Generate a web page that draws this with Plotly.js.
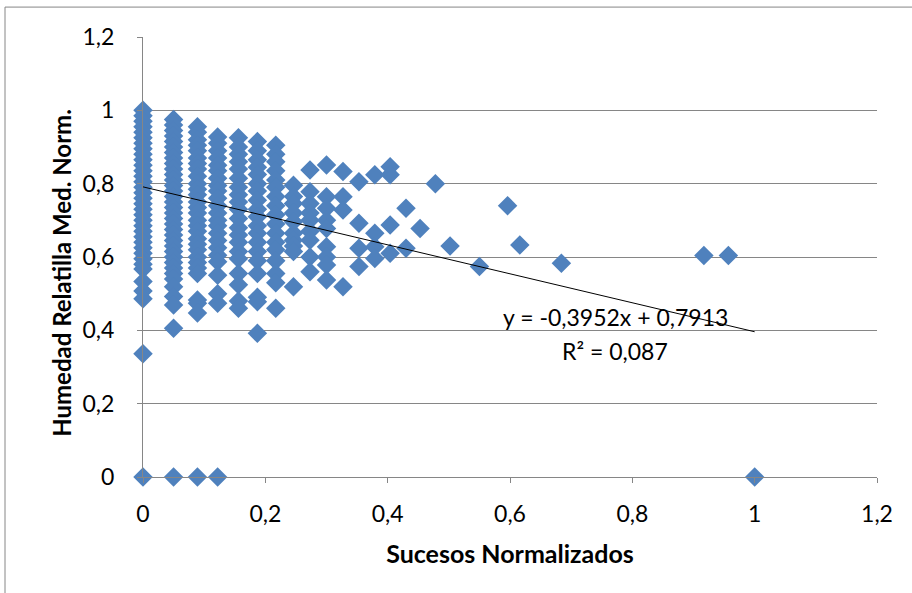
<!DOCTYPE html>
<html>
<head>
<meta charset="utf-8">
<script src="https://cdn.plot.ly/plotly-3.0.1.min.js"></script>
<style>
  html, body { margin: 0; padding: 0; background: #ffffff; }
  #chart { width: 912px; height: 593px; }
</style>
</head>
<body>
<div id="chart"></div>
<script>
// Column x-positions (Sucesos Normalizados)
const columnX = [0, 0.05, 0.089, 0.122, 0.156, 0.187, 0.217, 0.246, 0.273, 0.30, 0.327, 0.353, 0.379, 0.404, 0.43, 0.453, 0.478, 0.502, 0.55, 0.596, 0.616, 0.684, 0.917, 0.957, 1.0];

// Humedad Relativa Med. Norm. values for each column
const col000 = [1.0, 0.985, 0.97, 0.955, 0.94, 0.925, 0.91, 0.895, 0.88, 0.865, 0.85, 0.835, 0.82, 0.805, 0.79, 0.775, 0.76, 0.745, 0.73, 0.715, 0.7, 0.685, 0.67, 0.655, 0.64, 0.625, 0.61, 0.595, 0.58, 0.567, 0.533, 0.507, 0.486, 0.336, 0];
const col005 = [0.975, 0.96, 0.945, 0.93, 0.915, 0.9, 0.885, 0.87, 0.855, 0.84, 0.825, 0.81, 0.795, 0.78, 0.765, 0.75, 0.735, 0.72, 0.705, 0.69, 0.675, 0.66, 0.645, 0.63, 0.615, 0.6, 0.585, 0.57, 0.555, 0.54, 0.519, 0.492, 0.469, 0.406, 0];
const col009 = [0.955, 0.94, 0.92, 0.905, 0.89, 0.87, 0.855, 0.84, 0.82, 0.8, 0.785, 0.77, 0.75, 0.735, 0.72, 0.7, 0.685, 0.67, 0.65, 0.635, 0.62, 0.6, 0.585, 0.57, 0.555, 0.483, 0.474, 0.447, 0];
const col012 = [0.927, 0.91, 0.89, 0.87, 0.85, 0.835, 0.815, 0.795, 0.78, 0.76, 0.74, 0.72, 0.7, 0.685, 0.665, 0.645, 0.625, 0.605, 0.587, 0.55, 0.5, 0.474, 0];
const col016 = [0.925, 0.9, 0.88, 0.86, 0.84, 0.815, 0.79, 0.77, 0.75, 0.73, 0.705, 0.68, 0.66, 0.64, 0.615, 0.595, 0.555, 0.524, 0.48, 0.46];
const col019 = [0.915, 0.89, 0.865, 0.845, 0.825, 0.8, 0.78, 0.755, 0.73, 0.71, 0.685, 0.665, 0.64, 0.615, 0.59, 0.555, 0.49, 0.478, 0.392];
const col022 = [0.905, 0.88, 0.86, 0.835, 0.81, 0.79, 0.765, 0.74, 0.715, 0.69, 0.665, 0.64, 0.62, 0.59, 0.555, 0.53, 0.46];
const col025 = [0.796, 0.765, 0.746, 0.72, 0.696, 0.665, 0.646, 0.63, 0.615, 0.519];
const col027 = [0.837, 0.778, 0.746, 0.72, 0.7, 0.67, 0.646, 0.6, 0.56];
const col030 = [0.851, 0.764, 0.733, 0.7, 0.678, 0.628, 0.6, 0.578, 0.537];
const col033 = [0.833, 0.764, 0.728, 0.519];
const col035 = [0.805, 0.692, 0.624, 0.574];
const col038 = [0.824, 0.665, 0.628, 0.596];
const col040 = [0.846, 0.824, 0.687, 0.61];
const col043 = [0.733, 0.624];
const col045 = [0.678];
const col048 = [0.8];
const col050 = [0.63];
const col055 = [0.574];
const col060 = [0.74];
const col062 = [0.633];
const col068 = [0.583];
const col092 = [0.604];
const col096 = [0.604];
const col100 = [0];

const columnY = [col000, col005, col009, col012, col016, col019, col022, col025, col027, col030, col033, col035, col038, col040, col043, col045, col048, col050, col055, col060, col062, col068, col092, col096, col100];

// Linear trendline coefficients (Excel)
const trendSlope = -0.3952;
const trendIntercept = 0.7913;
const trendR2 = 0.087;
const trendXRange = [0, 1];

const xTicks = [0, 0.2, 0.4, 0.6, 0.8, 1, 1.2];
const yTicks = [0, 0.2, 0.4, 0.6, 0.8, 1, 1.2];

const xTitle = 'Sucesos Normalizados';
const yTitle = 'Humedad Relatilla Med. Norm.';

// Build flat point lists from the columns
const xs = [], ys = [];
columnX.forEach((x, i) => {
  columnY[i].forEach(y => { xs.push(x); ys.push(y); });
});

const fmt = v => v.toFixed(4).replace('.', ',');

const scatter = {
  type: 'scatter', mode: 'markers', x: xs, y: ys, cliponaxis: false,
  marker: { symbol: 'diamond', size: 15, color: '#4F81BD', line: { width: 0 } },
  hoverinfo: 'x+y', showlegend: false
};
const trend = {
  type: 'scatter', mode: 'lines', cliponaxis: false,
  x: trendXRange, y: trendXRange.map(x => trendSlope * x + trendIntercept),
  line: { color: '#000000', width: 1 }, hoverinfo: 'skip', showlegend: false
};

const gray = '#868686';
const tickFont = { family: 'Lato, "Open Sans", sans-serif', size: 23, color: '#000000' };
const titleFont = { family: 'Lato, "Open Sans", sans-serif', size: 25, color: '#000000', weight: 'bold' };
const yTitleFont = { family: 'Lato, "Open Sans", sans-serif', size: 24, color: '#000000', weight: 'bold' };

const layout = {
  width: 912, height: 593,
  margin: { l: 143, r: 35, t: 37, b: 116 },
  paper_bgcolor: '#ffffff', plot_bgcolor: '#ffffff',
  separators: ',.',
  font: tickFont,
  xaxis: {
    range: [0, 1.2], tickvals: xTicks, ticktext: xTicks.map(v => String(v).replace('.', ',')),
    showgrid: false, zeroline: false, showline: true, linecolor: gray, linewidth: 1,
    ticks: 'outside', ticklen: 5, tickcolor: gray, ticklabelstandoff: 11,
    tickfont: tickFont,
    title: { text: xTitle, font: titleFont, standoff: 19 }
  },
  yaxis: {
    range: [0, 1.2], tickvals: yTicks, ticktext: yTicks.map(v => String(v).replace('.', ',')),
    showgrid: true, gridcolor: gray, gridwidth: 1, zeroline: false,
    showline: true, linecolor: gray, linewidth: 1,
    ticks: 'outside', ticklen: 5, tickcolor: gray, ticklabelstandoff: 18,
    tickfont: tickFont
  },
  annotations: [
    { xref: 'paper', yref: 'paper', x: -0.1104, y: 0.464, xanchor: 'center', yanchor: 'middle',
      textangle: -90, showarrow: false, text: '<b>' + yTitle + '</b>', font: yTitleFont },
    { xref: 'x', yref: 'y', x: 0.772, y: 0.437, showarrow: false,
      text: 'y = ' + fmt(trendSlope) + 'x + ' + fmt(trendIntercept), font: tickFont },
    { xref: 'x', yref: 'y', x: 0.772, y: 0.343, showarrow: false,
      text: 'R² = ' + trendR2.toFixed(3).replace('.', ','), font: tickFont }
  ],
  shapes: [
    { type: 'line', xref: 'paper', yref: 'paper', x0: -0.188, x1: 1.06, y0: 1.068, y1: 1.068, line: { color: gray, width: 1 } },
    { type: 'line', xref: 'paper', yref: 'paper', x0: -0.188, x1: -0.188, y0: 1.068, y1: -0.3, line: { color: gray, width: 1 } }
  ]
};

Plotly.newPlot('chart', [scatter, trend], layout, { displayModeBar: false, staticPlot: true });
</script>
</body>
</html>
